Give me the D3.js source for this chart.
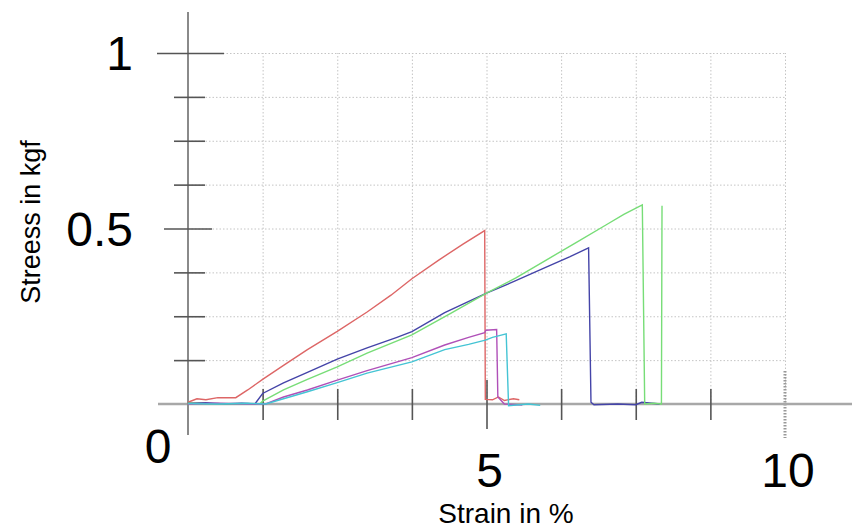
<!DOCTYPE html>
<html>
<head>
<meta charset="utf-8">
<script src="https://cdn.jsdelivr.net/npm/d3@7"></script>
<style>
  body { margin: 0; background: #fff; }
  svg { display: block; font-family: "Liberation Sans", Arial, sans-serif; }
  .grid line { stroke: #c4c4c4; stroke-dasharray: 1.5, 2; }
  .grid path { display: none; }
  .ticks path { display: none; }
  .ticks line { stroke: #555; stroke-width: 1.6; }
</style>
</head>
<body>
<div id="d3container"></div>
<script>
// strain (%) / stress (kgf) pairs, one array per specimen
var red = [[0, 0.005], [0.15, 0.015], [0.3, 0.012], [0.5, 0.018], [0.8, 0.018], [1.0, 0.04],
    [1.25, 0.07], [1.6, 0.11], [2.0, 0.155], [2.5, 0.207], [3.0, 0.262], [3.4, 0.31],
    [3.75, 0.357], [4.2, 0.41], [4.6, 0.455], [4.97, 0.494], [4.98, 0.013], [5.1, 0.012],
    [5.2, 0.02], [5.3, 0.01], [5.45, 0.015], [5.55, 0.012]];
var blue = [[0, 0.002], [0.3, 0.004], [0.6, 0.0], [0.9, 0.002], [1.12, 0.0], [1.25, 0.03],
    [1.6, 0.06], [2.0, 0.09], [2.5, 0.128], [3.0, 0.16], [3.5, 0.19], [3.75, 0.206],
    [4.3, 0.26], [5.0, 0.316], [5.5, 0.352], [6.0, 0.39], [6.4, 0.42], [6.71, 0.445],
    [6.75, 0.005], [6.8, -0.002], [7.2, 0.0], [7.5, -0.002], [7.6, 0.005], [7.9, 0.0]];
var green = [[0, 0.002], [0.5, 0.0], [1.0, 0.001], [1.2, 0.0], [1.25, 0.008], [1.6, 0.04],
    [2.0, 0.07], [2.5, 0.106], [3.0, 0.145], [3.75, 0.197], [4.4, 0.258], [5.0, 0.316],
    [5.5, 0.36], [6.0, 0.41], [6.5, 0.46], [7.0, 0.51], [7.3, 0.54], [7.61, 0.567],
    [7.65, 0.0], [7.8, 0.002], [7.93, 0.0], [7.94, 0.565]];
var magenta = [[0, 0.0], [0.5, 0.002], [1.0, 0.0], [1.3, 0.0], [1.6, 0.02], [2.0, 0.04],
    [2.5, 0.068], [3.0, 0.095], [3.75, 0.132], [4.3, 0.168], [4.7, 0.19], [4.97, 0.203],
    [4.99, 0.21], [5.17, 0.212], [5.19, 0.02], [5.3, 0.0], [5.6, -0.003]];
var cyan = [[0, 0.001], [0.5, 0.0], [1.0, 0.002], [1.3, 0.0], [1.6, 0.015], [2.0, 0.035],
    [2.5, 0.061], [3.0, 0.088], [3.75, 0.12], [4.3, 0.155], [4.7, 0.17], [4.98, 0.182],
    [5.1, 0.19], [5.33, 0.2], [5.37, -0.005], [5.5, -0.003], [5.7, 0.0], [5.9, -0.004]];

var seriesColors = ['#dd6666', '#4444a8', '#77dd77', '#b050b8', '#44c4d4'];

var gridX = [1.25, 2.5, 3.75, 5, 6.25, 7.5, 8.75, 10];
var gridY = [0.125, 0.25, 0.375, 0.5, 0.625, 0.75, 0.875, 1];
var minorX = [1.25, 2.5, 3.75, 6.25, 7.5, 8.75];
var minorY = [0.125, 0.25, 0.375, 0.625, 0.75, 0.875];
var xLabels = ['0', '5', '10'];
var yLabels = ['0.5', '1'];

var width = 852;
var height = 531;

var x = d3.scaleLinear().domain([0, 10]).range([188, 785]);
var y = d3.scaleLinear().domain([0, 1]).range([404, 53]);

var svg = d3.select('#d3container').append('svg')
    .attr('width', width)
    .attr('height', height);

// dotted grid
svg.append('g')
    .attr('class', 'grid')
    .attr('transform', 'translate(0, ' + y(0) + ')')
    .call(d3.axisBottom(x).tickValues(gridX).tickSize(-(y(0) - y(1))).tickFormat(''));
svg.append('g')
    .attr('class', 'grid')
    .attr('transform', 'translate(' + x(0) + ', 0)')
    .call(d3.axisLeft(y).tickValues(gridY).tickSize(-(x(10) - x(0))).tickFormat(''));

// the 10 % line runs on past the axis, thicker
svg.append('line')
    .attr('x1', x(10)).attr('x2', x(10))
    .attr('y1', y(0) - 33).attr('y2', y(0) + 34)
    .attr('stroke', '#999').attr('stroke-width', 3).attr('stroke-dasharray', '1.5,1.5');

// axis lines
svg.append('line')
    .attr('x1', 158).attr('x2', width)
    .attr('y1', y(0)).attr('y2', y(0))
    .attr('stroke', '#a8a8a8').attr('stroke-width', 2.5);
svg.append('line')
    .attr('x1', x(0)).attr('x2', x(0))
    .attr('y1', 12).attr('y2', 435)
    .attr('stroke', '#8a8a8a').attr('stroke-width', 2);

// tick marks crossing the axes
function crossTicks(axis, values, before, after, horizontal) {
    var g = svg.append('g').attr('class', 'ticks');
    if (horizontal) {
        g.attr('transform', 'translate(0, ' + y(0) + ')')
            .call(axis.tickValues(values).tickSize(after).tickFormat(''));
        g.selectAll('.tick line').attr('y1', -before);
    } else {
        g.attr('transform', 'translate(' + x(0) + ', 0)')
            .call(axis.tickValues(values).tickSize(before).tickFormat(''));
        g.selectAll('.tick line').attr('x1', after);
    }
}
crossTicks(d3.axisBottom(x), minorX, 15, 16, true);
crossTicks(d3.axisBottom(x), [5], 24, 25, true);
crossTicks(d3.axisLeft(y), minorY, 14, 17, false);
crossTicks(d3.axisLeft(y), [0.5], 24, 24, false);
crossTicks(d3.axisLeft(y), [1], 31, 36, false);

// curves
var line = d3.line()
    .x(function (d) { return x(d[0]); })
    .y(function (d) { return y(d[1]); });

[red, blue, green, magenta, cyan].forEach(function (s, i) {
    svg.append('path')
        .attr('d', line(s))
        .attr('fill', 'none')
        .attr('stroke', seriesColors[i])
        .attr('stroke-width', 1.4);
});

// big tick labels
svg.selectAll('.xlab').data(xLabels).enter().append('text')
    .attr('class', 'xlab')
    .attr('x', function (d) { return +d === 0 ? x(0) - 30 : x(+d) + 3; })
    .attr('y', function (d) { return +d === 0 ? 463 : 487; })
    .attr('text-anchor', 'middle')
    .attr('font-size', 48)
    .text(function (d) { return d; });

svg.selectAll('.ylab').data(yLabels).enter().append('text')
    .attr('class', 'ylab')
    .attr('x', 133)
    .attr('y', function (d) { return y(+d) + 17; })
    .attr('text-anchor', 'end')
    .attr('font-size', 48)
    .text(function (d) { return d; });

// axis titles
svg.append('text')
    .attr('x', 506)
    .attr('y', 523)
    .attr('text-anchor', 'middle')
    .attr('font-size', 28)
    .text('Strain in %');

svg.append('text')
    .attr('transform', 'translate(40, 222) rotate(-90)')
    .attr('text-anchor', 'middle')
    .attr('font-size', 27)
    .text('Streess in kgf');
</script>
</body>
</html>
